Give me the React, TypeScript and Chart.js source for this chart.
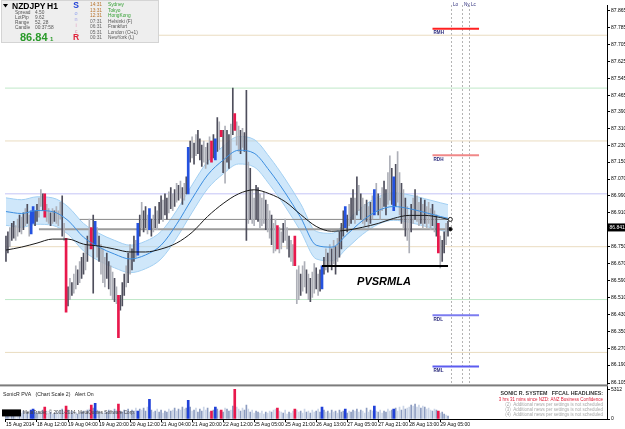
import React, { useEffect, useRef } from "react";
import { Chart, registerables } from "chart.js";

Chart.register(...registerables);

// ---------------- data ----------------
const HIGH = [
  86.80, 86.82, 86.84, 86.86, 86.87, 86.85, 86.88, 86.90, 86.89, 86.91,
  86.93, 86.95, 86.90, 86.92, 86.94, 86.92, 86.95, 86.98, 87.02, 87.00,
  87.00, 86.95, 86.93, 86.91, 86.93, 86.92, 86.94, 86.92, 86.96, 86.99,
  86.86, 86.79, 86.56, 86.60, 86.58, 86.62, 86.66, 86.64, 86.68, 86.70,
  86.72, 86.76, 86.80, 86.88, 86.84, 86.90, 86.87, 86.84, 86.80, 86.76,
  86.74, 86.70, 86.72, 86.68, 86.66, 86.63, 86.60, 86.56, 86.52, 86.52,
  86.58, 86.62, 86.66, 86.72, 86.76, 86.74, 86.80, 86.78, 86.86, 86.90,
  86.96, 86.92, 86.94, 86.90, 86.93, 86.88, 86.90, 86.94, 86.92, 86.96,
  86.99, 86.97, 87.00, 86.98, 87.01, 87.03, 87.00, 87.02, 87.05, 87.04,
  87.06, 87.03, 87.05, 87.08, 87.22, 87.25, 87.27, 87.24, 87.28, 87.30,
  87.26, 87.23, 87.25, 87.22, 87.24, 87.27, 87.25, 87.28, 87.26, 87.36,
  87.34, 87.30, 87.30, 87.32, 87.30, 87.28, 87.33, 87.50, 87.38, 87.34,
  87.32, 87.30, 87.31, 87.29, 87.49, 87.15, 87.12, 87.02, 86.98, 87.04,
  87.03, 87.00, 86.98, 87.01, 86.97, 86.95, 86.92, 86.90, 86.86, 86.88,
  86.85, 86.84, 86.82, 86.86, 86.88, 86.84, 86.80, 86.78, 86.76, 86.80,
  86.64, 86.66, 86.62, 86.66, 86.68, 86.64, 86.62, 86.60, 86.63, 86.67,
  86.65, 86.62, 86.64, 86.66, 86.70, 86.74, 86.72, 86.76, 86.74, 86.78,
  86.75, 86.79, 86.82, 86.86, 86.92, 86.94, 86.90, 86.95, 86.98, 87.02,
  86.98, 87.08, 87.04, 87.00, 86.98, 86.95, 86.97, 86.94, 86.96, 86.99,
  87.02, 87.05, 87.00, 86.98, 87.03, 87.06, 87.02, 87.10, 87.18, 87.12,
  87.08, 87.14, 87.20, 87.10, 87.05, 87.02, 86.98, 86.94, 86.90, 86.95,
  86.98, 87.02, 86.99, 86.96, 86.98, 86.95, 86.97, 86.94, 86.96, 86.93,
  86.95, 86.92, 86.90, 86.86, 86.80, 86.78, 86.82, 86.86, 86.87,
];

const LOW = [
  86.68, 86.72, 86.75, 86.78, 86.79, 86.78, 86.80, 86.82, 86.81, 86.83,
  86.85, 86.86, 86.80, 86.81, 86.86, 86.85, 86.87, 86.89, 86.94, 86.92,
  86.89, 86.87, 86.86, 86.85, 86.86, 86.87, 86.86, 86.85, 86.88, 86.80,
  86.78, 86.44, 86.47, 86.50, 86.52, 86.53, 86.55, 86.57, 86.58, 86.60,
  86.62, 86.64, 86.68, 86.74, 86.74, 86.53, 86.76, 86.70, 86.68, 86.62,
  86.58, 86.56, 86.60, 86.55, 86.52, 86.50, 86.49, 86.48, 86.32, 86.45,
  86.47, 86.52, 86.56, 86.58, 86.62, 86.64, 86.68, 86.70, 86.71, 86.80,
  86.84, 86.82, 86.84, 86.81, 86.83, 86.80, 86.82, 86.84, 86.83, 86.86,
  86.88, 86.87, 86.90, 86.88, 86.91, 86.93, 86.92, 86.94, 86.96, 86.97,
  86.98, 86.95, 86.97, 87.00, 87.00, 87.15, 87.17, 87.14, 87.18, 87.19,
  87.16, 87.13, 87.15, 87.12, 87.14, 87.16, 87.15, 87.17, 87.16, 87.20,
  87.21, 87.27, 87.10, 87.05, 87.15, 87.12, 87.16, 87.28, 87.30, 87.23,
  87.20, 87.19, 87.22, 87.20, 86.78, 86.86, 86.88, 86.86, 86.85, 86.88,
  86.87, 86.84, 86.85, 86.86, 86.83, 86.82, 86.79, 86.76, 86.72, 86.73,
  86.74, 86.72, 86.74, 86.77, 86.78, 86.74, 86.70, 86.68, 86.66, 86.66,
  86.48, 86.50, 86.52, 86.54, 86.56, 86.53, 86.50, 86.49, 86.51, 86.53,
  86.55, 86.52, 86.54, 86.55, 86.62, 86.64, 86.63, 86.66, 86.64, 86.67,
  86.62, 86.68, 86.70, 86.74, 86.80, 86.84, 86.82, 86.85, 86.86, 86.88,
  86.86, 86.90, 86.92, 86.88, 86.86, 86.85, 86.87, 86.84, 86.86, 86.88,
  86.90, 86.92, 86.90, 86.88, 86.92, 86.94, 86.90, 86.95, 86.97, 86.95,
  86.92, 86.94, 86.96, 86.90, 86.86, 86.84, 86.80, 86.78, 86.72, 86.82,
  86.86, 86.88, 86.87, 86.85, 86.86, 86.84, 86.86, 86.84, 86.86, 86.83,
  86.85, 86.82, 86.80, 86.72, 86.65, 86.68, 86.72, 86.76, 86.80,
];

// d = normal dark bar, l = normal light bar, r = red climax, b = blue climax
const BAR_TYPE =
  "ddlddlldld" + "ldlbbddlld" + "rlldldllld" + "lrdldlldld" + "dldlrdbldl" +
  "llddlldlrd" + "ddldlddlbd" + "lddlbdldld" + "dlddldldld" + "ldldbdldld" +
  "ddlldlrdbd" + "lrdlddldrl" + "ldlddldlld" + "dllldlldll" + "rlldlldllr" +
  "lldlldldll" + "dldbdldldl" + "dldddbdldd" + "ldldlldldl" + "bldllddlld" +
  "bdlldldlld" + "ldlldldlll" + "dldrlddld";

const VOLUME = [
  1060, 710, 1240, 890, 1420, 1060, 890, 1240, 1060, 1420,
  890, 1240, 1060, 1590, 1770, 1240, 1060, 1420, 1240, 1590,
  2120, 1420, 1060, 1240, 890, 1060, 1420, 1240, 1590, 1770,
  1420, 2300, 1590, 1240, 1420, 1060, 1240, 890, 1060, 1240,
  1420, 1060, 1590, 1770, 2480, 1950, 2830, 1590, 1420, 1240,
  1060, 1420, 1240, 1590, 1060, 1420, 1770, 1590, 2660, 1420,
  1240, 1590, 1420, 1770, 1240, 1590, 1420, 1950, 1420, 1770,
  1590, 1950, 1420, 2120, 3540, 1590, 1240, 1420, 1770, 1240,
  1590, 1060, 1420, 1240, 1770, 1420, 1590, 1950, 1420, 1770,
  1590, 2120, 1770, 1950, 3360, 2120, 1420, 1590, 1950, 1240,
  1770, 1420, 2120, 1590, 1950, 1240, 1420, 1590, 2120, 1770,
  1420, 1590, 1240, 1950, 1770, 1420, 1590, 2300, 5312, 2120,
  1770, 1420, 1950, 1590, 2480, 1770, 1240, 1590, 1060, 1420,
  1240, 1060, 1420, 890, 1240, 1060, 1420, 1240, 1590, 1770,
  1950, 1420, 1240, 1060, 1590, 890, 1240, 1060, 1420, 1770,
  1590, 1240, 1420, 1060, 1770, 1240, 1420, 1060, 1590, 1240,
  1420, 1770, 1240, 2120, 1590, 1240, 1420, 1060, 1590, 1240,
  1420, 1060, 1590, 1240, 1420, 1770, 1060, 1420, 1240, 1590,
  1420, 1770, 1240, 1590, 1420, 1060, 1950, 1240, 1590, 1420,
  2300, 1420, 1240, 1590, 1060, 1420, 1240, 1770, 1420, 1590,
  1770, 1950, 1420, 2120, 1590, 2300, 1770, 1950, 2120, 2480,
  2300, 2660, 2120, 2480, 1950, 2300, 2120, 1770, 1950, 1590,
  1420, 1770, 1590, 1420, 1060, 1240, 890, 710, 530,
];

const TIME_TICK_INDEX = [0, 16, 32, 48, 64, 80, 96, 112, 128, 144, 160, 176, 192, 208, 224];
const TIME_LABELS = [
  "15 Aug 2014", "18 Aug 12:00", "19 Aug 04:00", "19 Aug 20:00", "20 Aug 12:00",
  "21 Aug 04:00", "21 Aug 20:00", "22 Aug 12:00", "25 Aug 05:00", "25 Aug 21:00",
  "26 Aug 13:00", "27 Aug 05:00", "27 Aug 21:00", "28 Aug 13:00", "29 Aug 05:00",
];

const PRICE_TICKS = [
  87.865, 87.785, 87.705, 87.625, 87.545, 87.465, 87.39, 87.31, 87.23, 87.15, 87.07,
  86.99, 86.91, 86.75, 86.67, 86.59, 86.51, 86.43, 86.35, 86.27, 86.19, 86.105,
];
const VOLUME_TICKS = [0, 5312];

const MA_INDEX = [0, 8, 16, 24, 32, 40, 48, 56, 64, 72, 80, 88, 96, 104, 112, 120, 128, 136, 144, 152, 160, 168, 176, 184, 192, 200, 208, 216, 224, 228];
const DRAGON_MID = [86.916, 86.907, 86.921, 86.916, 86.874, 86.795, 86.748, 86.715, 86.692, 86.711, 86.757, 86.856, 86.977, 87.089, 87.159, 87.206, 87.192, 87.108, 87.005, 86.888, 86.757, 86.748, 86.809, 86.874, 86.921, 86.940, 86.930, 86.912, 86.893, 86.884];
const DRAGON_UP = [86.981, 86.972, 86.986, 86.981, 86.939, 86.860, 86.813, 86.780, 86.757, 86.776, 86.822, 86.921, 87.042, 87.154, 87.224, 87.271, 87.257, 87.173, 87.070, 86.953, 86.822, 86.813, 86.874, 86.939, 86.986, 87.005, 86.995, 86.977, 86.958, 86.949];
const DRAGON_LO = [86.851, 86.842, 86.856, 86.851, 86.809, 86.730, 86.683, 86.650, 86.627, 86.646, 86.692, 86.791, 86.912, 87.024, 87.094, 87.141, 87.127, 87.043, 86.940, 86.823, 86.692, 86.683, 86.744, 86.809, 86.856, 86.875, 86.865, 86.847, 86.828, 86.819];
const EMA_SLOW = [86.734, 86.748, 86.767, 86.786, 86.786, 86.762, 86.753, 86.739, 86.725, 86.725, 86.739, 86.767, 86.818, 86.893, 86.954, 87.000, 87.019, 87.000, 86.963, 86.902, 86.846, 86.823, 86.828, 86.842, 86.860, 86.884, 86.898, 86.898, 86.888, 86.879];

const LEVELS = [87.75, 87.5, 87.25, 87.0, 86.75, 86.5, 86.25];
const RANGE_NAMES = ["RMH", "RDH", "RDL", "RML"];
const RANGE_PRICES = [87.781, 87.183, 86.426, 86.183];
const RANGE_SPAN = [220, 244];
const SESSION_NAMES = ["Lo", "Ny", "Lc"];
const SESSION_INDEX = [229.4, 235.0, 238.6];
const SUPPORT_PRICE = 86.659;
const SUPPORT_SPAN = [163, 228];
const TRACK_PRICES = [86.879, 86.833];
const TRACK_START = [38, 17];
const TRACK_END = 229.2;
const CURRENT_PRICE = 86.841;

const CLOCK_TIMES = ["14:31", "13:31", "12:31", "07:31", "06:31", "05:31", "00:31"];
const CLOCK_CITIES = ["Sydney", "Tokyo", "HongKong", "Helsinki (F)", "Frankfurt", "London (O+1)", "NewYork (L)"];
const INFO_NAMES = ["Spread", "LotPip", "Range", "Candle"];
const INFO_VALUES = ["4.50", "9.62", "52, 28", "00:37:58"];
const NEWS_LINES = [
  "3 hrs 31 mins since NZD: ANZ Business Confidence",
  "(2)  Additional news per settings is not scheduled",
  "(3)  Additional news per settings is not scheduled",
  "(4)  Additional news per settings is not scheduled",
];

// ---------------- styling ----------------
const FONT = '"Liberation Sans", Arial, sans-serif';
const PRICE_COLOR: Record<string, string> = { d: "#4e4e5c", l: "#aeb0b8", r: "#e8184c", b: "#2452e0" };
const VOL_COLOR: Record<string, string> = { d: "#8c9cc0", l: "#cbd5e7", r: "#e8184c", b: "#2040d8" };
const LEVEL_COLORS = ["#eadcc0", "#bfe8c8", "#eadcc0", "#c4c4f6", "#eadcc0", "#bfe8c8", "#eadcc0"];
const RANGE_COLORS = ["#ff2020", "#f08888", "#7c7cf0", "#5c5cf0"];

function txt(ctx: CanvasRenderingContext2D, s: string, x: number, y: number, size: number, color: string, opt: { bold?: boolean; italic?: boolean; align?: CanvasTextAlign } = {}) {
  ctx.font = `${opt.italic ? "italic " : ""}${opt.bold ? "bold " : ""}${size}px ${FONT}`;
  ctx.fillStyle = color;
  ctx.textAlign = opt.align || "left";
  ctx.textBaseline = "middle";
  ctx.fillText(s, x, y);
}

const overlayPlugin = {
  id: "mtOverlay",
  beforeDatasetsDraw(chart: any) {
    const { ctx, scales } = chart;
    const x = scales.x, y = scales.y;
    ctx.save();
    ctx.strokeStyle = "#b4b4b4";
    ctx.lineWidth = 1;
    ctx.setLineDash([2, 2]);
    SESSION_INDEX.forEach((v) => {
      const px = Math.round(x.getPixelForValue(v)) + 0.5;
      ctx.beginPath();
      ctx.moveTo(px, y.top);
      ctx.lineTo(px, y.bottom);
      ctx.stroke();
    });
    ctx.restore();
  },
  afterDatasetsDraw(chart: any) {
    const { ctx, scales } = chart;
    const x = scales.x, y = scales.y;
    ctx.save();
    SESSION_INDEX.forEach((v, k) => {
      txt(ctx, SESSION_NAMES[k], Math.round(x.getPixelForValue(v)) + 2, 5, 4.6, "#2c2c7c");
    });
    RANGE_PRICES.forEach((p, k) => {
      txt(ctx, RANGE_NAMES[k], x.getPixelForValue(RANGE_SPAN[0]) + 1, y.getPixelForValue(p) + 4.5, 4.6, "#2c2c7c", { bold: true });
    });
    txt(ctx, "PVSRMLA", 384, y.getPixelForValue(SUPPORT_PRICE) + 16, 11, "#000", { bold: true, italic: true, align: "center" });
    ctx.restore();
  },
  afterDraw(chart: any) {
    const { ctx, scales } = chart;
    const y = scales.y, yv = scales.yv;
    ctx.save();
    // panel separator
    ctx.fillStyle = "#7c7c7c";
    ctx.fillRect(0, y.bottom - 1, y.left + 1, 2);

    // current price box
    const cy = y.getPixelForValue(CURRENT_PRICE);
    ctx.fillStyle = "#000";
    ctx.fillRect(y.left + 1, cy - 4, 17, 8);
    txt(ctx, CURRENT_PRICE.toFixed(3), y.left + 2.5, cy, 5, "#fff");

    // info panel
    ctx.fillStyle = "#eeeeee";
    ctx.fillRect(1, 0, 158, 43);
    ctx.strokeStyle = "#d4d4d4";
    ctx.lineWidth = 1;
    ctx.strokeRect(1.5, 0.5, 157, 42);
    ctx.fillStyle = "#000";
    ctx.beginPath();
    ctx.moveTo(3, 4);
    ctx.lineTo(8, 4);
    ctx.lineTo(5.5, 7.5);
    ctx.closePath();
    ctx.fill();
    txt(ctx, "NZDJPY", 12, 7, 8.5, "#000", { bold: true });
    txt(ctx, "H1", 47, 7, 8.5, "#000", { bold: true });
    INFO_NAMES.forEach((n, k) => {
      txt(ctx, n, 15, 13 + k * 5, 4.8, "#555");
      txt(ctx, INFO_VALUES[k], 35, 13 + k * 5, 4.8, "#555");
    });
    txt(ctx, "86.84", 20, 38, 11, "#2a9a2a", { bold: true });
    txt(ctx, "1", 50, 39, 6, "#2a9a2a", { bold: true });
    txt(ctx, "S", 76, 6, 8.5, "#1d3fd6", { bold: true, align: "center" });
    txt(ctx, "o", 76, 13, 5.5, "#8fa2ee", { align: "center" });
    txt(ctx, "n", 76, 19, 5.5, "#a6a6e6", { align: "center" });
    txt(ctx, "i", 76, 25, 5.5, "#e2a0c0", { align: "center" });
    txt(ctx, "c", 76, 31, 5.5, "#e092b2", { align: "center" });
    txt(ctx, "R", 76, 38, 8.5, "#e0203a", { bold: true, align: "center" });
    CLOCK_TIMES.forEach((t, k) => {
      const yy = 5 + k * 5.5;
      const active = k < 3;
      txt(ctx, t, 90, yy, 4.8, active ? "#b8742e" : "#666");
      txt(ctx, CLOCK_CITIES[k], 108, yy, 4.8, active ? "#34a034" : "#555");
    });

    // lower panel texts
    const vt = yv.top;
    txt(ctx, "SonicR PVA   (Chart Scale 2)   Alert On", 3, vt + 9, 5.2, "#222");
    ctx.fillStyle = "#000";
    ctx.fillRect(2, vt + 24, 19, 7);
    txt(ctx, "MetaTrader, \u00a9 2001-2014, MetaQuotes Software Corp.", 23, vt + 27.5, 4.6, "#444");
    const rx = yv.left - 4;
    txt(ctx, "SONIC R. SYSTEM   FFCAL HEADLINES:", rx, vt + 8, 5.3, "#333", { bold: true, align: "right" });
    NEWS_LINES.forEach((s, k) => {
      txt(ctx, s, rx, vt + 14 + k * 5, 4.5, k === 0 ? "#e0203a" : "#a8a8a8", { align: "right" });
    });
    ctx.restore();
  },
};

function pts(idx: number[], vals: number[]) {
  return idx.map((x, k) => ({ x, y: vals[k] }));
}

function buildConfig(): any {
  const n = HIGH.length;
  const all = Array.from({ length: n }, (_, i) => i);
  const normal = all.filter((i) => BAR_TYPE[i] === "d" || BAR_TYPE[i] === "l");
  const climax = all.filter((i) => BAR_TYPE[i] === "r" || BAR_TYPE[i] === "b");

  const lineBase = { type: "line", pointRadius: 0, borderWidth: 1, fill: false, xAxisID: "x", yAxisID: "y" };

  const datasets: any[] = [];
  LEVELS.forEach((v, k) => {
    datasets.push({ ...lineBase, data: [{ x: -0.5, y: v }, { x: 310, y: v }], borderColor: LEVEL_COLORS[k], order: 30 });
  });
  const upIndex = datasets.length;
  datasets.push({ ...lineBase, data: pts(MA_INDEX, DRAGON_UP), borderColor: "#a4d0f2", tension: 0.4, cubicInterpolationMode: "monotone", order: 25 });
  datasets.push({ ...lineBase, data: pts(MA_INDEX, DRAGON_LO), borderColor: "#a4d0f2", tension: 0.4, cubicInterpolationMode: "monotone", fill: upIndex, backgroundColor: "rgba(160,208,245,0.5)", order: 24 });
  TRACK_PRICES.forEach((p, k) => {
    datasets.push({
      ...lineBase,
      data: [{ x: TRACK_START[k], y: p }, { x: TRACK_END, y: p }],
      borderColor: k === 0 ? "#8a8a8a" : "#9c9c9c",
      borderWidth: k === 0 ? 1 : 2,
      pointRadius: [0, k === 0 ? 2 : 1.8],
      pointBackgroundColor: k === 0 ? "#ffffff" : "#000000",
      pointBorderColor: "#222",
      pointBorderWidth: 1,
      order: 22,
    });
  });
  datasets.push({
    type: "bar", xAxisID: "x", yAxisID: "y", grouped: false, barThickness: 1, order: 20,
    data: normal.map((i) => ({ x: i, y: [LOW[i], HIGH[i]] })),
    backgroundColor: normal.map((i) => PRICE_COLOR[BAR_TYPE[i]]),
  });
  datasets.push({
    type: "bar", xAxisID: "x", yAxisID: "y", grouped: false, barThickness: 2, order: 19,
    data: climax.map((i) => ({ x: i, y: [LOW[i], HIGH[i]] })),
    backgroundColor: climax.map((i) => PRICE_COLOR[BAR_TYPE[i]]),
  });
  datasets.push({
    type: "bar", xAxisID: "x", yAxisID: "yv", grouped: false, barThickness: 1, order: 20,
    data: normal.map((i) => ({ x: i, y: VOLUME[i] })),
    backgroundColor: normal.map((i) => VOL_COLOR[BAR_TYPE[i]]),
  });
  datasets.push({
    type: "bar", xAxisID: "x", yAxisID: "yv", grouped: false, barThickness: 2, order: 19,
    data: climax.map((i) => ({ x: i, y: VOLUME[i] })),
    backgroundColor: climax.map((i) => VOL_COLOR[BAR_TYPE[i]]),
  });
  datasets.push({ ...lineBase, data: pts(MA_INDEX, DRAGON_MID), borderColor: "#3c8ee0", tension: 0.4, cubicInterpolationMode: "monotone", order: 10 });
  datasets.push({ ...lineBase, data: pts(MA_INDEX, EMA_SLOW), borderColor: "#1a1a1a", tension: 0.4, cubicInterpolationMode: "monotone", order: 9 });
  datasets.push({ ...lineBase, data: [{ x: SUPPORT_SPAN[0], y: SUPPORT_PRICE }, { x: SUPPORT_SPAN[1], y: SUPPORT_PRICE }], borderColor: "#000", borderWidth: 2, order: 8 });
  RANGE_PRICES.forEach((p, k) => {
    datasets.push({ ...lineBase, data: [{ x: RANGE_SPAN[0], y: p }, { x: RANGE_SPAN[1], y: p }], borderColor: RANGE_COLORS[k], borderWidth: 2, order: 7 });
  });

  const tickFont = { size: 5, family: FONT };
  const yAxisCommon = {
    position: "right",
    stack: "panes",
    bounds: "data",
    grid: { drawOnChartArea: false, tickLength: 3, color: "#000" },
    border: { display: true, color: "#000" },
    afterFit: (s: any) => { s.width = 18; s.paddingTop = 0; s.paddingBottom = 0; },
  };

  return {
    type: "bar",
    data: { datasets },
    plugins: [overlayPlugin],
    options: {
      responsive: false,
      animation: false,
      devicePixelRatio: 1,
      layout: { padding: 0 },
      plugins: { legend: { display: false }, tooltip: { enabled: false } },
      scales: {
        x: {
          type: "linear",
          position: "bottom",
          min: -0.5,
          max: 310,
          bounds: "data",
          offset: false,
          grid: { drawOnChartArea: false, tickLength: 3, color: "#000", offset: false },
          border: { display: true, color: "#000" },
          afterBuildTicks: (s: any) => { s.ticks = TIME_TICK_INDEX.map((v) => ({ value: v })); },
          ticks: {
            autoSkip: false,
            maxRotation: 0,
            minRotation: 0,
            align: "start",
            padding: 0,
            color: "#000",
            font: tickFont,
            callback: (v: any) => TIME_LABELS[TIME_TICK_INDEX.indexOf(Number(v))] || "",
          },
          afterFit: (s: any) => { s.height = 10; s.paddingLeft = 0; s.paddingRight = 0; },
        },
        y: {
          ...yAxisCommon,
          type: "linear",
          stackWeight: 385,
          min: 86.094,
          max: 87.893,
          afterBuildTicks: (s: any) => { s.ticks = PRICE_TICKS.map((v) => ({ value: v })); },
          ticks: { autoSkip: false, padding: 1, color: "#000", font: tickFont, callback: (v: any) => Number(v).toFixed(3) },
        },
        yv: {
          ...yAxisCommon,
          type: "linear",
          stackWeight: 34,
          min: 0,
          max: 6020,
          afterBuildTicks: (s: any) => { s.ticks = VOLUME_TICKS.map((v) => ({ value: v })); },
          ticks: { autoSkip: false, padding: 1, color: "#000", font: tickFont, callback: (v: any) => String(v) },
        },
      },
    },
  };
}

export default function App() {
  const ref = useRef<HTMLCanvasElement>(null);
  useEffect(() => {
    document.body.style.margin = "0";
    const chart = new Chart(ref.current as HTMLCanvasElement, buildConfig());
    return () => chart.destroy();
  }, []);
  return (
    <div style={{ width: 625, height: 429, position: "relative", background: "#fff" }}>
      <canvas ref={ref} width={625} height={429} style={{ display: "block" }} />
    </div>
  );
}
